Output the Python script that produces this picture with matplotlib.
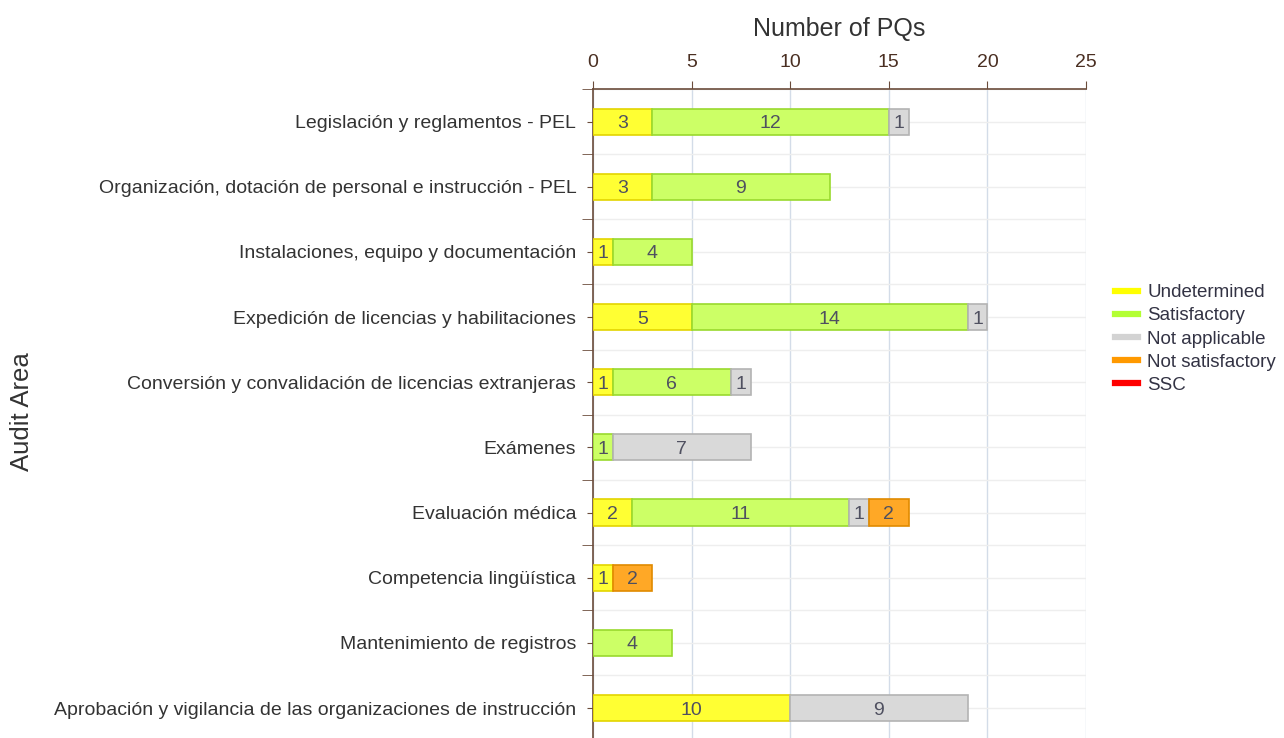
import numpy as np
import matplotlib.pyplot as plt
from matplotlib.lines import Line2D

plt.rcParams['font.family'] = ['Liberation Sans', 'DejaVu Sans']

categories = [
    "Legislación y reglamentos - PEL",
    "Organización, dotación de personal e instrucción - PEL",
    "Instalaciones, equipo y documentación",
    "Expedición de licencias y habilitaciones",
    "Conversión y convalidación de licencias extranjeras",
    "Exámenes",
    "Evaluación médica",
    "Competencia lingüística",
    "Mantenimiento de registros",
    "Aprobación y vigilancia de las organizaciones de instrucción",
]
undetermined = [3, 3, 1, 5, 1, 0, 2, 1, 0, 10]
satisfactory = [12, 9, 4, 14, 6, 1, 11, 0, 4, 0]
not_applicable = [1, 0, 0, 1, 1, 7, 1, 0, 0, 9]
not_satisfactory = [0, 0, 0, 0, 0, 0, 2, 2, 0, 0]
ssc = [0, 0, 0, 0, 0, 0, 0, 0, 0, 0]

series = [
    ("Undetermined", undetermined, "#ffff33", "#e3d400", "#ffff00"),
    ("Satisfactory", satisfactory, "#ccff66", "#99d92e", "#b3ff33"),
    ("Not applicable", not_applicable, "#d9d9d9", "#b3b3b3", "#d3d3d3"),
    ("Not satisfactory", not_satisfactory, "#ffa826", "#e08a00", "#ff9900"),
    ("SSC", ssc, "#ff0000", "#cc0000", "#ff0000"),
]

fig = plt.figure(figsize=(12.84, 7.38), dpi=100)
ax = fig.add_axes([593 / 1284, -0.0035, (1086 - 593) / 1284, 0.8829])

y = np.arange(len(categories))
left = np.zeros(len(categories))
for name, vals, fc, ec, lc in series:
    vals = np.array(vals, dtype=float)
    mask = vals > 0
    if mask.any():
        bars = ax.barh(y[mask], vals[mask], left=left[mask], height=0.4, color=fc,
                       edgecolor=ec, linewidth=1.2, zorder=3)
        for b, v in zip(bars, vals[mask]):
            ax.text(b.get_x() + b.get_width() / 2, b.get_y() + b.get_height() / 2,
                    f"{int(v)}", ha="center", va="center_baseline", fontsize=14,
                    color="#4f5060", zorder=4)
    left += vals

ax.set_xlim(0, 25)
ax.set_ylim(len(categories) - 0.5, -0.5)
ax.xaxis.tick_top()
ax.xaxis.set_label_position("top")
ax.set_xticks([0, 5, 10, 15, 20, 25])
ax.set_xlabel("Number of PQs", fontsize=18, color="#333333", labelpad=13)
fig.text(22 / 1284, 1 - 412 / 738, "Audit Area", rotation=90, ha="center",
         va="center", fontsize=18.5, color="#333333")

ax.set_yticks(y)
ax.set_yticklabels(categories, fontsize=14, color="#333333")
ax.set_yticks(np.arange(len(categories) + 1) - 0.5, minor=True)
ax.tick_params(axis="y", which="major", length=4, color="#6b4c3b", pad=8)
ax.tick_params(axis="y", which="minor", length=8, color="#6b4c3b")
ax.tick_params(axis="x", which="major", length=6, color="#6b4c3b",
               labelcolor="#4a2f22", labelsize=14, pad=7)

for s in ["right", "bottom"]:
    ax.spines[s].set_visible(False)
for s in ["top", "left"]:
    ax.spines[s].set_color("#6b4c3b")
    ax.spines[s].set_linewidth(1.2)

ax.grid(axis="x", color="#d3dce8", linewidth=1, zorder=0)
ax.grid(axis="y", which="both", color="#eeeeee", linewidth=1, zorder=0)
ax.set_axisbelow(True)

handles = [Line2D([0], [0], color=lc, lw=4.5) for _, _, _, _, lc in series]
labels = [s[0] for s in series]
leg = fig.legend(handles, labels, loc="center left",
                 bbox_to_anchor=(1107 / 1284, 1 - 339 / 738),
                 frameon=False, fontsize=13.5, handlelength=1.25, handletextpad=0.5,
                 labelspacing=0.32, borderaxespad=0)
for t in leg.get_texts():
    t.set_color("#333344")

fig.savefig("out.png", dpi=100)
